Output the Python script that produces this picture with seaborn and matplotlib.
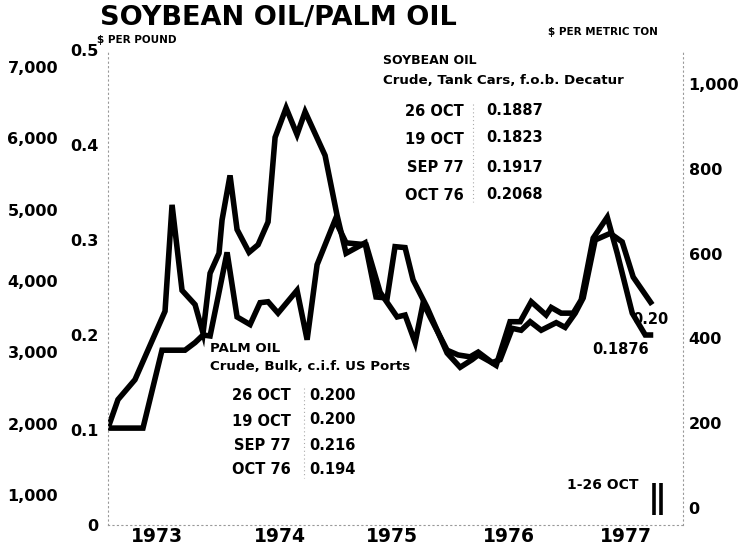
import matplotlib
matplotlib.use("Agg")
import matplotlib.pyplot as plt
from matplotlib.lines import Line2D
from matplotlib.transforms import Bbox
import seaborn as sns
import pandas as pd

# Monthly series, time measured in months from January 1973, prices in $ per pound
soy_month = [0.0, 1.05, 2.84, 6.0, 6.74, 7.79, 9.16, 10.0, 10.74, 11.68, 12.0, 12.84,
             13.58, 14.84, 15.79, 16.84, 17.58, 18.74, 19.89, 20.74, 22.84, 24.1,
             25.05, 27.05, 28.2, 29.37, 30.2, 31.26, 32.1, 33.58, 35.68, 37.05, 38.3,
             38.95, 40.2, 40.84, 42.3, 43.37, 44.53, 46.1, 46.63, 47.68, 48.95, 49.79,
             51.05, 52.53, 53.58, 55.16, 56.53, 57.37]
soy_price = [0.102, 0.132, 0.153, 0.225, 0.337, 0.247, 0.232, 0.202, 0.265, 0.286, 0.321,
             0.368, 0.311, 0.287, 0.295, 0.319, 0.408, 0.439, 0.411, 0.435, 0.389, 0.326,
             0.286, 0.297, 0.240, 0.239, 0.293, 0.292, 0.258, 0.229, 0.181, 0.166, 0.174,
             0.179, 0.172, 0.168, 0.214, 0.214, 0.235, 0.221, 0.229, 0.223, 0.223, 0.237,
             0.302, 0.324, 0.286, 0.223, 0.200, 0.200]

palm_month = [0.0, 3.68, 5.68, 8.1, 9.16, 10.0, 10.74, 11.58, 12.53, 13.58, 14.95, 16.0,
              16.84, 17.89, 19.89, 20.95, 22.0, 23.89, 25.05, 27.16, 28.63, 30.42, 31.26,
              32.32, 33.16, 33.89, 35.68, 36.84, 38.1, 38.95, 40.42, 41.26, 42.53, 43.47,
              44.42, 45.58, 47.16, 48.1, 49.16, 50.0, 51.26, 52.84, 54.1, 55.26, 57.26]
palm_price = [0.102, 0.102, 0.184, 0.184, 0.192, 0.200, 0.199, 0.240, 0.287, 0.219, 0.211,
              0.234, 0.235, 0.223, 0.247, 0.195, 0.274, 0.321, 0.297, 0.295, 0.245, 0.219,
              0.221, 0.192, 0.234, 0.219, 0.184, 0.179, 0.177, 0.182, 0.171, 0.174, 0.207,
              0.205, 0.214, 0.205, 0.213, 0.208, 0.223, 0.239, 0.300, 0.307, 0.298, 0.261,
              0.232]

year_labels = ["1973", "1974", "1975", "1976", "1977"]
year_pos = [5.2, 18.1, 29.9, 42.2, 54.5]

per_pound_ticks = [0, 0.1, 0.2, 0.3, 0.4, 0.5]
per_ton_ticks = [0, 200, 400, 600, 800, 1000]
outer_ticks = [1000, 2000, 3000, 4000, 5000, 6000, 7000]

soy_quotes = [("26 OCT", "0.1887"), ("19 OCT", "0.1823"), ("SEP 77", "0.1917"), ("OCT 76", "0.2068")]
palm_quotes = [("26 OCT", "0.200"), ("19 OCT", "0.200"), ("SEP 77", "0.216"), ("OCT 76", "0.194")]

oct_weeks = [57.4, 58.2]

sns.set_style("white")
plt.rcParams["font.family"] = ["DejaVu Sans"]
plt.rcParams["font.weight"] = "bold"
plt.rcParams["text.color"] = "black"
plt.rcParams["xtick.color"] = "black"
plt.rcParams["ytick.color"] = "black"
plt.rcParams["axes.labelcolor"] = "black"

W, H = 746, 546
fig = plt.figure(figsize=(W / 100, H / 100), dpi=100)
fig.patch.set_facecolor("white")


def fx(x):
    return x / W


def fy(y):
    return 1 - y / H


ax = fig.add_axes([fx(108), fy(525), 575 / W, 475 / H])
ax.set_facecolor("none")

df = pd.concat([
    pd.DataFrame({"month": soy_month, "price": soy_price, "series": "Soybean oil"}),
    pd.DataFrame({"month": palm_month, "price": palm_price, "series": "Palm oil"}),
])
sns.lineplot(data=df, x="month", y="price", hue="series", units="series",
             estimator=None, sort=False, palette={"Soybean oil": "black", "Palm oil": "black"},
             linewidth=4.0, legend=False, ax=ax)
for ln in ax.lines:
    ln.set_solid_joinstyle("miter")
    ln.set_solid_capstyle("butt")

ax.set_xlim(0, 60.5)
ax.set_ylim(0, 0.5)
ax.set_xlabel("")
ax.set_ylabel("")
ax.set_xticks(year_pos)
ax.set_xticklabels(year_labels, fontsize=13.5, fontweight="heavy")
ax.set_yticks(per_pound_ticks)
ax.set_yticklabels(["0" if t == 0 else f"{t:.1f}" for t in per_pound_ticks], fontsize=11.5)
ax.tick_params(axis="x", length=0, pad=1.5)
ax.tick_params(axis="y", length=0, pad=7)
ax.spines["top"].set_visible(False)
for side in ["left", "right", "bottom"]:
    ax.spines[side].set_linestyle((0, (1, 3)))
    ax.spines[side].set_linewidth(0.8)
    ax.spines[side].set_color("#999999")

# $ per metric ton scale on the right
ax_r = ax.twinx()
ax_r.set_ylim(-40, 1080)
ax_r.set_yticks(per_ton_ticks)
ax_r.set_yticklabels([f"{t:,}" for t in per_ton_ticks], fontsize=11.5)
ax_r.tick_params(axis="y", length=0, pad=4)
for s in ax_r.spines.values():
    s.set_visible(False)

# outer scale on the left
ax_o = ax.twinx()
ax_o.set_ylim(587, 7231)
ax_o.set_yticks(outer_ticks)
ax_o.set_yticklabels([f"{t:,}" for t in outer_ticks], fontsize=11.5)
ax_o.tick_params(axis="y", length=0, pad=36, labelleft=True, labelright=False)
for s in ax_o.spines.values():
    s.set_visible(False)

# marker bars for the weekly October quotes
ax.vlines(oct_weeks, 0.011, 0.044, colors="black", linewidth=2.6)

# titles
fig.text(fx(100), fy(18), "SOYBEAN OIL/PALM OIL", fontsize=19.5, fontweight="heavy",
         ha="left", va="center")
fig.text(fx(97), fy(40), "$ PER POUND", fontsize=7.5, ha="left", va="center")
fig.text(fx(548), fy(32), "$ PER METRIC TON", fontsize=7.5, ha="left", va="center")

# soybean oil quotation block
fig.text(fx(383), fy(60), "SOYBEAN OIL", fontsize=9, ha="left", va="center")
fig.text(fx(383), fy(81), "Crude, Tank Cars, f.o.b. Decatur", fontsize=9.6,
         ha="left", va="center")
for (lab, val), y in zip(soy_quotes, [112, 139, 168, 195]):
    fig.text(fx(464), fy(y), lab, fontsize=10.5, ha="right", va="center")
    fig.text(fx(486), fy(y - 1), val, fontsize=10.5, ha="left", va="center")
fig.add_artist(Line2D([fx(473), fx(473)], [fy(104), fy(202)], color="#aaaaaa",
                      linewidth=0.8, linestyle=(0, (1, 2.5))))

# palm oil quotation block
fig.text(fx(210), fy(349), "PALM OIL", fontsize=9.6, ha="left", va="center")
fig.text(fx(210), fy(366), "Crude, Bulk, c.i.f. US Ports", fontsize=9.6,
         ha="left", va="center")
for (lab, val), y in zip(palm_quotes, [396, 421, 446, 470]):
    fig.text(fx(291), fy(y), lab, fontsize=10.5, ha="right", va="center")
    fig.text(fx(309), fy(y - 1), val, fontsize=10.5, ha="left", va="center")
fig.add_artist(Line2D([fx(304), fx(304)], [fy(388), fy(478)], color="#aaaaaa",
                      linewidth=0.8, linestyle=(0, (1, 2.5))))

# end-of-line labels
t = fig.text(fx(632), fy(319), "0.203", fontsize=10.5, ha="left", va="center")
t.set_clip_box(Bbox.from_extents(0, 0, 669, H))
t.set_clip_on(True)
fig.text(fx(592), fy(350), "0.1876", fontsize=10.5, ha="left", va="center")
fig.text(fx(567), fy(485), "1-26 OCT", fontsize=10, ha="left", va="center")

fig.savefig("out.png", dpi=100, facecolor="white")
